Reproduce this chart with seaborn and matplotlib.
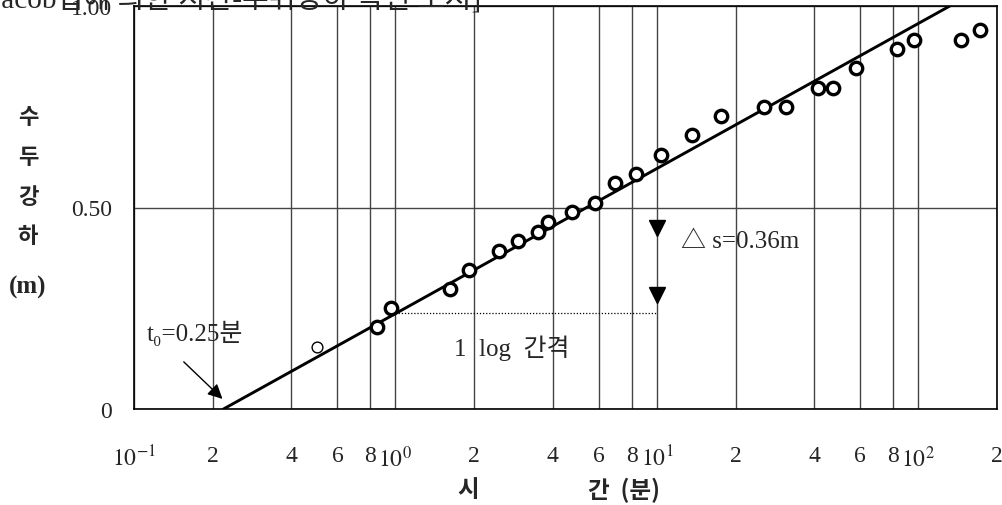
import numpy as np
import pandas as pd
import matplotlib
matplotlib.use("Agg")
import matplotlib.pyplot as plt
import seaborn as sns
from matplotlib.ticker import FixedLocator, NullLocator, FixedFormatter

# ---------------- data ----------------
time_min = [0.5, 0.85, 0.96, 1.61, 1.91, 2.49, 2.95, 3.52, 3.84, 4.74, 5.79, 6.9,
            8.3, 10.4, 13.6, 17.6, 25.7, 31.2, 41.4, 47.2, 57.8, 83.2, 96.4, 146, 172]
drawdown_m = [0.154, 0.203, 0.25, 0.297, 0.345, 0.393, 0.416, 0.44, 0.464, 0.488,
              0.512, 0.56, 0.584, 0.631, 0.679, 0.726, 0.75, 0.75, 0.797, 0.797,
              0.845, 0.893, 0.916, 0.916, 0.94]

fit_line_t = [0.22, 132.0]
fit_line_s = [0.0, 1.0]

interval_t = [1.0, 10.0]
interval_s = [0.238, 0.238]

delta_arrow_t = [10.0, 10.0]
delta_arrow_s = [0.448, 0.283]

x_ticks = [0.1, 0.2, 0.4, 0.6, 0.8, 1, 2, 4, 6, 8, 10, 20, 40, 60, 80, 100, 200]
x_ticklabels = ["$10^{-1}$", "2", "4", "6", "8", "$10^{0}$", "2", "4", "6", "8",
                "$10^{1}$", "2", "4", "6", "8", "$10^{2}$", "2"]
y_ticks = [0, 0.5, 1.0]
y_ticklabels = ["0", "0.50", "1.00"]

# ---------------- style ----------------
sns.set_style("white")
plt.rcParams["font.family"] = ["Liberation Serif", "Noto Sans CJK KR", "DejaVu Serif"]
plt.rcParams["mathtext.fontset"] = "stix"
KR = ["Noto Sans CJK KR", "DejaVu Sans"]
SERIF = ["Liberation Serif", "Noto Sans CJK KR", "DejaVu Serif"]

fig = plt.figure(figsize=(10.03, 5.06), dpi=100)
ax = fig.add_axes([134 / 1003, 1 - 410 / 506, (997 - 134) / 1003, (410 - 7) / 506])

ax.set_xscale("log")
ax.set_xlim(0.1, 200)
ax.set_ylim(0, 1.0)

ax.xaxis.set_major_locator(FixedLocator(x_ticks))
ax.xaxis.set_major_formatter(FixedFormatter(x_ticklabels))
ax.xaxis.set_minor_locator(NullLocator())
ax.set_yticks(y_ticks)
ax.set_yticklabels(y_ticklabels)
ax.tick_params(axis="x", length=0, pad=26, labelsize=17)
ax.tick_params(axis="y", length=0, pad=16, labelsize=17)

ax.grid(True, which="major", color="#454545", linewidth=1.0)
for sp in ax.spines.values():
    sp.set_color("black")
    sp.set_linewidth(1.2)

# fit line
df_line = pd.DataFrame({"t": fit_line_t, "s": fit_line_s})
sns.lineplot(data=df_line, x="t", y="s", ax=ax, color="black", linewidth=2.1,
             zorder=4, legend=False)

# data points
df = pd.DataFrame({"t": time_min, "s": drawdown_m})
sns.scatterplot(data=df.iloc[:1], x="t", y="s", ax=ax, s=60, facecolor="white",
                edgecolor="black", linewidth=1.0, zorder=5, legend=False)
sns.scatterplot(data=df.iloc[1:], x="t", y="s", ax=ax, s=80, facecolor="white",
                edgecolor="black", linewidth=2.4, zorder=5, legend=False)

# 1 log interval dotted line
ax.plot(interval_t, interval_s, color="black", linestyle=(0, (1, 1.5)),
        linewidth=0.9, zorder=3)

# delta s arrowheads
ax.plot(delta_arrow_t, delta_arrow_s, linestyle="none", marker="v",
        markersize=12, color="black", zorder=6)

# t0 arrow
ax.annotate("", xy=(0.218, 0.025), xytext=(0.155, 0.117),
            arrowprops=dict(arrowstyle="-|>", color="black", lw=1.0,
                            mutation_scale=22, shrinkA=0, shrinkB=0), zorder=6)

ax.set_xlabel("")
ax.set_ylabel("")

# annotations
ax.text(0.112, 0.191, "t₀=0.25분", fontsize=18, family=SERIF,
        ha="left", va="center")
ax.text(1.67, 0.154, "1  log  간격", fontsize=18, family=SERIF,
        ha="left", va="center")
ax.text(12.4, 0.418, "△ s=0.36m", fontsize=18, family=SERIF,
        ha="left", va="center")

# y label (vertical stacked)
for ch, ypix in zip(["수", "두", "강", "하"], [118, 158, 198, 237]):
    fig.text(28 / 1003, 1 - ypix / 506, ch, fontsize=16, family=KR,
             fontweight="bold", ha="center", va="center")
fig.text(28 / 1003, 1 - 287 / 506, "(m)", fontsize=18, family=SERIF,
         fontweight="bold", ha="center", va="center")

# x label
fig.text(468 / 1003, 1 - 490 / 506, "시", fontsize=17, family=KR,
         fontweight="bold", ha="center", va="center")
fig.text(624 / 1003, 1 - 490 / 506, "간  (분)", fontsize=17, family=KR,
         fontweight="bold", ha="center", va="center")

# title (cropped at top in the original)
fig.text(-10 / 1003, 1 - 7 / 506, "Jacob법에 의한 시간-수위강하 곡선 도시]",
         fontsize=21, family=SERIF, ha="left", va="baseline")

fig.savefig("out.png", dpi=100)
